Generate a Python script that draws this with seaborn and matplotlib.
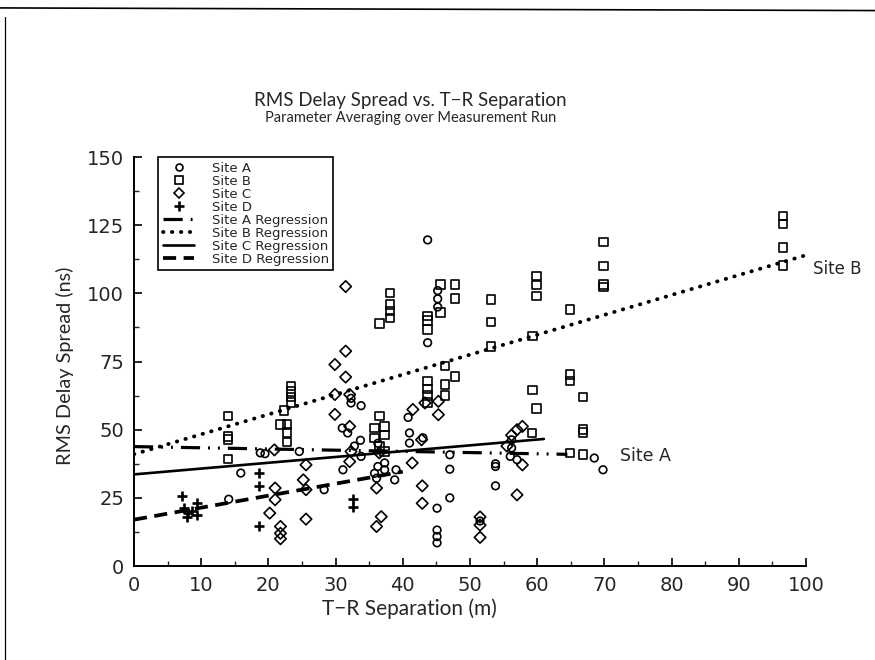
import numpy as np
import pandas as pd
import matplotlib
matplotlib.use("Agg")
import matplotlib.pyplot as plt
import seaborn as sns
from matplotlib.lines import Line2D
from matplotlib.ticker import MultipleLocator

# ---------------- data ----------------
site_a_x = [14.1, 15.9, 18.8, 19.5, 24.6, 28.3, 31.1, 31.0, 32.3, 32.3,
            33.8, 33.7, 33.8, 31.8, 32.8, 35.8, 36.3, 36.3, 37.3, 37.3,
            36.1, 39.0, 38.8, 40.8, 41.0, 41.0, 43.0, 43.7, 43.7, 45.2,
            45.2, 45.2, 45.1, 45.1, 45.1, 45.1, 47.0, 47.0, 47.0, 53.8,
            53.8, 53.8, 51.5, 56.2, 56.2, 56.0, 57.0, 68.5, 69.8]
site_a_y = [24.5, 34.1, 41.5, 41.2, 42.0, 28.0, 35.3, 50.6, 61.5, 59.8,
            58.8, 46.1, 40.2, 48.8, 44.0, 34.0, 36.5, 45.0, 37.8, 35.3,
            32.2, 35.3, 31.6, 54.5, 48.8, 45.1, 47.0, 119.6, 81.9, 101.0,
            98.0, 95.0, 21.2, 13.2, 10.8, 8.5, 40.8, 35.5, 25.0, 37.5,
            36.5, 29.4, 16.5, 46.3, 43.3, 40.2, 39.0, 39.6, 35.3]

site_b_x = [14, 14, 14, 14,
            23.4, 23.4, 23.4, 23.4, 22.3, 21.8, 22.8, 22.8, 22.8,
            38.1, 38.1, 38.1, 38.1, 36.5, 36.5, 35.8, 37.3, 37.3, 35.8, 36.5, 37.3,
            43.7, 43.7, 43.7, 45.6, 45.6, 47.8, 47.8, 43.7, 43.7, 43.7, 43.7,
            46.3, 47.8, 46.3, 46.3,
            53.1, 53.1, 53.1,
            59.9, 59.9, 59.9, 59.3, 59.3, 59.9, 59.2,
            64.9, 64.9, 64.9, 66.8, 66.8, 66.8, 64.9, 66.8,
            69.9, 69.9, 69.9, 69.9,
            96.6, 96.6, 96.6, 96.6]
site_b_y = [55, 47.6, 46.5, 39.2,
            66, 64, 62, 60, 57, 52, 51.8, 49, 45.5,
            100.2, 96, 93.5, 91, 89, 55, 50.6, 51.2, 48, 47, 44, 42,
            91.7, 90, 86.8, 103.3, 93, 103.3, 98.1, 67.8, 65, 62.5, 60,
            73.3, 69.6, 66.5, 62.5,
            97.8, 89.5, 80.6,
            106.4, 103, 99, 84.3, 64.5, 57.7, 48.8,
            94, 70.2, 67.8, 62, 50, 49, 41.4, 40.8,
            118.9, 110, 103.3, 102.3,
            128.4, 125.4, 116.8, 110.3]

site_c_x = [20.9, 21.0, 21.0, 20.2, 21.8, 21.8, 21.8, 25.6, 25.2, 25.6, 25.6,
            31.5, 31.5, 29.9, 31.5, 29.9, 32.1, 29.9, 32.1, 32.3, 32.1,
            36.1, 36.8, 36.1, 36.5,
            41.5, 42.8, 41.4, 42.9, 42.9, 45.3, 45.3, 43.3,
            51.5, 51.5, 51.5,
            57.0, 57.8, 56.2, 57.8, 57.0, 55.5]
site_c_y = [42.6, 28.6, 24.3, 19.4, 14.5, 12.0, 10.0, 37.1, 31.6, 28.0, 17.2,
            102.5, 78.8, 73.9, 69.3, 62.9, 62.9, 55.6, 51.2, 42.0, 38.3,
            28.6, 18.1, 14.5, 41.5,
            57.4, 46.3, 37.8, 29.4, 23.0, 60.4, 55.5, 59.8,
            18.0, 15.0, 10.5,
            50.0, 51.2, 48.0, 37.1, 26.1, 44.0]

site_d_x = [7.1, 7.4, 7.9, 8.0, 8.6, 9.4, 9.4, 18.6, 18.6, 18.6, 32.6, 32.6]
site_d_y = [25.7, 21.2, 18.1, 19.5, 20.0, 23.0, 18.7, 34.0, 29.2, 14.5, 24.5, 21.5]

reg_names = ["Site A Regression", "Site B Regression",
             "Site C Regression", "Site D Regression"]
reg_intercept = [43.8, 41.0, 33.6, 17.0]
reg_slope = [-0.044, 0.73, 0.213, 0.44]
reg_xmax = [64.5, 100.0, 61.0, 40.0]

x_ticks = [0, 10, 20, 30, 40, 50, 60, 70, 80, 90, 100]
y_ticks = [0, 25, 50, 75, 100, 125, 150]

# ---------------- style ----------------
sns.set_style("ticks")
plt.rcParams["font.family"] = ["Lato", "DejaVu Sans"]

fig = plt.figure(figsize=(8.75, 6.6), dpi=100)
ax = fig.add_axes([0.1531, 0.1424, 0.768, 0.6197])

pts = pd.concat([
    pd.DataFrame({"x": site_a_x, "y": site_a_y, "site": "Site A"}),
    pd.DataFrame({"x": site_b_x, "y": site_b_y, "site": "Site B"}),
    pd.DataFrame({"x": site_c_x, "y": site_c_y, "site": "Site C"}),
    pd.DataFrame({"x": site_d_x, "y": site_d_y, "site": "Site D"}),
])

mk = {"Site A": ("o", 30), "Site B": ("s", 38), "Site C": ("D", 34)}
for site in ["Site A", "Site B", "Site C"]:
    d = pts[pts.site == site]
    m, s = mk[site]
    sns.scatterplot(data=d, x="x", y="y", ax=ax, marker=m, s=s,
                    facecolor="none", edgecolor="black", linewidth=1.2,
                    legend=False, zorder=3)
d = pts[pts.site == "Site D"]
sns.scatterplot(data=d, x="x", y="y", ax=ax, marker="+", s=55,
                color="black", linewidth=1.9, legend=False, zorder=3)

styles = [
    dict(linestyle=(0, (6, 2.5, 0.6, 2.5, 0.6, 2.5)), linewidth=2.3),
    dict(linestyle=(0, (0.1, 2.2)), linewidth=2.8, dash_capstyle="round"),
    dict(linestyle="-", linewidth=1.9),
    dict(linestyle=(0, (3.5, 2.0)), linewidth=2.7),
]
for b, m, xm, st in zip(reg_intercept, reg_slope, reg_xmax, styles):
    xx = np.array([0.0, xm])
    sns.lineplot(x=xx, y=b + m * xx, ax=ax, color="black", zorder=2,
                 estimator=None, sort=False, **st)

ax.text(101.0, 109.0, "Site B", fontsize=12, ha="left", va="center",
        clip_on=False, family=["DejaVu Sans"])
ax.text(72.3, 40.5, "Site A", fontsize=12.5, ha="left", va="center",
        family=["DejaVu Sans"])

ax.set_xlim(0, 100)
ax.set_ylim(0, 150)
ax.set_xticks(x_ticks)
ax.set_yticks(y_ticks)
ax.xaxis.set_minor_locator(MultipleLocator(5))
ax.yaxis.set_minor_locator(MultipleLocator(12.5))
ax.tick_params(axis="both", which="major", direction="in", length=6, width=1.2,
               labelsize=14, pad=7, color="black")
ax.tick_params(axis="both", which="minor", direction="in", length=3.5, width=1.0)
for lab in ax.get_xticklabels() + ax.get_yticklabels():
    lab.set_family(["DejaVu Sans"])
for sp in ["top", "right"]:
    ax.spines[sp].set_visible(False)
for sp in ["left", "bottom"]:
    ax.spines[sp].set_linewidth(1.4)
    ax.spines[sp].set_color("black")

ax.set_xlabel("T\u2212R Separation (m)", fontsize=15)
ax.xaxis.set_label_coords(0.41, -0.078)
ax.set_ylabel("RMS Delay Spread (ns)", fontsize=14.3)
ax.yaxis.set_label_coords(-0.089, 0.49)

fig.text(0.469, 0.847, "RMS Delay Spread vs. T\u2212R Separation",
         ha="center", va="center", fontsize=13.5)
fig.text(0.469, 0.821, "Parameter Averaging over Measurement Run",
         ha="center", va="center", fontsize=10.5)

handles = [
    Line2D([], [], marker="o", ls="none", mfc="none", mec="black", ms=5, mew=1.2),
    Line2D([], [], marker="s", ls="none", mfc="none", mec="black", ms=5.5, mew=1.2),
    Line2D([], [], marker="D", ls="none", mfc="none", mec="black", ms=5.5, mew=1.2),
    Line2D([], [], marker="+", ls="none", color="black", ms=7, mew=1.9),
]
for st in styles:
    handles.append(Line2D([], [], color="black", **st))
labels = ["Site A", "Site B", "Site C", "Site D"] + reg_names
leg = ax.legend(handles, labels, loc="upper left", bbox_to_anchor=(0.036, 1.0),
                borderaxespad=0.0,
                prop={"family": ["DejaVu Sans"], "size": 9.5},
                labelspacing=0.0, handlelength=2.4, handletextpad=1.3,
                borderpad=0.35, frameon=True, fancybox=False, framealpha=1)
leg.get_frame().set_edgecolor("black")
leg.get_frame().set_linewidth(1.2)

# scan frame lines
fig.add_artist(Line2D([0.0, 1.0], [0.988, 0.984], transform=fig.transFigure,
                      color="black", lw=1.2))
fig.add_artist(Line2D([0.006, 0.006], [0.0, 0.975], transform=fig.transFigure,
                      color="black", lw=0.9))

fig.savefig("out.png", dpi=100, facecolor="white")
